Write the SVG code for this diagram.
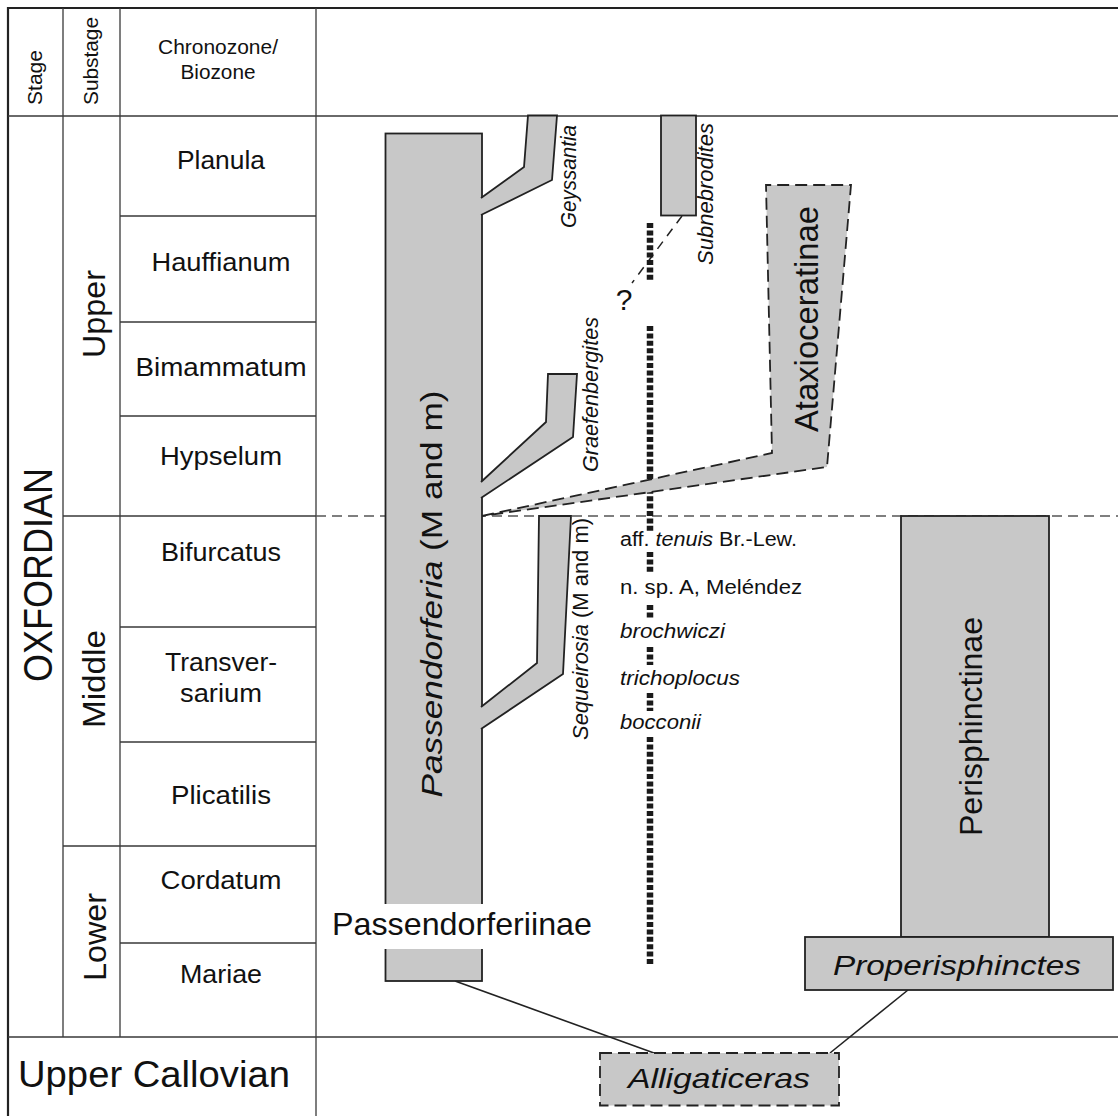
<svg xmlns="http://www.w3.org/2000/svg" width="1118" height="1116" viewBox="0 0 1118 1116">
<style>
text { font-family: "Liberation Sans", Arial, sans-serif; fill: #111; }
.it { font-style: italic; }
.frame { stroke: #222; stroke-width: 2.2; fill: none; }
.grid { stroke: #3a3a3a; stroke-width: 1.3; fill: none; }
.bdash { stroke: #555; stroke-width: 1.3; fill: none; stroke-dasharray: 10 6; }
.box { fill: #c8c8c8; stroke: #222; stroke-width: 1.8; }
.dbox { fill: #c8c8c8; stroke: #222; stroke-width: 1.8; stroke-dasharray: 12 6; }
.conn { stroke: #222; stroke-width: 1.6; fill: none; }
.qconn { stroke: #222; stroke-width: 1.5; fill: none; stroke-dasharray: 9 7; }
.dots { stroke: #1a1a1a; stroke-width: 6.5; fill: none; stroke-dasharray: 5 2.4; }
.zone { font-size: 25px; text-anchor: middle; }
.sub { font-size: 32px; text-anchor: middle; }
.gen { font-size: 22px; text-anchor: middle; font-style: italic; }
.sp { font-size: 19.5px; }
</style>

<g id="table">
  <path class="frame" d="M8,1116 V8 H1118"/>
  <path class="grid" d="M63,8 V1037 M120,8 V1037 M316,8 V1116 M8,116 H1118 M8,1037 H1118 M120,216 H316 M120,322 H316 M120,416 H316 M63,516 H316 M120,627 H316 M120,742 H316 M63,846 H316 M120,943 H316"/>
  <path class="bdash" d="M316,516 H1118"/>
</g>

<g id="header">
  <text transform="translate(41.5,77.5) rotate(-90)" font-size="19.5" text-anchor="middle" textLength="55" lengthAdjust="spacingAndGlyphs">Stage</text>
  <text transform="translate(98,61) rotate(-90)" font-size="19.5" text-anchor="middle" textLength="88" lengthAdjust="spacingAndGlyphs">Substage</text>
  <text x="218" y="54" font-size="20" text-anchor="middle" textLength="120" lengthAdjust="spacingAndGlyphs">Chronozone/</text>
  <text x="218" y="79" font-size="20" text-anchor="middle" textLength="75" lengthAdjust="spacingAndGlyphs">Biozone</text>
</g>

<g id="stages">
  <text transform="translate(51.7,575) rotate(-90)" font-size="40" text-anchor="middle" textLength="214" lengthAdjust="spacingAndGlyphs">OXFORDIAN</text>
  <text x="18" y="1087" font-size="36" textLength="272" lengthAdjust="spacingAndGlyphs">Upper Callovian</text>
</g>

<g id="substages">
  <text class="sub" transform="translate(105,314) rotate(-90)" textLength="88" lengthAdjust="spacingAndGlyphs">Upper</text>
  <text class="sub" transform="translate(105,679) rotate(-90)" textLength="98" lengthAdjust="spacingAndGlyphs">Middle</text>
  <text class="sub" transform="translate(106,937) rotate(-90)" textLength="88" lengthAdjust="spacingAndGlyphs">Lower</text>
</g>

<g id="zones">
  <text class="zone" x="221" y="169" textLength="88" lengthAdjust="spacingAndGlyphs">Planula</text>
  <text class="zone" x="221" y="271" textLength="139" lengthAdjust="spacingAndGlyphs">Hauffianum</text>
  <text class="zone" x="221" y="376" textLength="171" lengthAdjust="spacingAndGlyphs">Bimammatum</text>
  <text class="zone" x="221" y="465" textLength="122" lengthAdjust="spacingAndGlyphs">Hypselum</text>
  <text class="zone" x="221" y="561" textLength="120" lengthAdjust="spacingAndGlyphs">Bifurcatus</text>
  <text class="zone" x="221" y="671" textLength="112" lengthAdjust="spacingAndGlyphs">Transver-</text>
  <text class="zone" x="221" y="702" textLength="82" lengthAdjust="spacingAndGlyphs">sarium</text>
  <text class="zone" x="221" y="804" textLength="100" lengthAdjust="spacingAndGlyphs">Plicatilis</text>
  <text class="zone" x="221" y="889" textLength="121" lengthAdjust="spacingAndGlyphs">Cordatum</text>
  <text class="zone" x="221" y="983" textLength="82" lengthAdjust="spacingAndGlyphs">Mariae</text>
</g>

<g id="connectors">
  <line class="conn" x1="455" y1="981" x2="654" y2="1053"/>
  <line class="conn" x1="908" y1="990" x2="830" y2="1053"/>
  <line class="qconn" x1="682" y1="216" x2="632" y2="283"/>
  <path class="dots" d="M650,223 V282 M650,326 V532 M650,552 V573 M650,605 V618 M650,647 V665 M650,693 V711 M650,737 V965"/>
</g>

<g id="ataxioceratinae">
  <polygon class="dbox" points="482,516 772,453 766,185 851,185 827,467"/>
  <text transform="translate(818,319) rotate(-90)" font-size="33" text-anchor="middle" textLength="226" lengthAdjust="spacingAndGlyphs">Ataxioceratinae</text>
</g>

<g id="passendorferia">
  <rect class="box" x="385.5" y="133.5" width="96.5" height="847.5"/>
  <text transform="translate(442,594) rotate(-90)" font-size="30" text-anchor="middle" textLength="407" lengthAdjust="spacingAndGlyphs"><tspan class="it">Passendorferia</tspan> (M and m)</text>
</g>

<g id="geyssantia">
  <path class="box" d="M481,198 L524,167 L528,115.5 L557,115.5 L552,180 L481,215"/>
  <text class="gen" transform="translate(575.5,176.5) rotate(-90)" textLength="103" lengthAdjust="spacingAndGlyphs">Geyssantia</text>
</g>

<g id="subnebrodites">
  <rect class="box" x="661" y="115.5" width="35" height="100"/>
  <text class="gen" transform="translate(713,194) rotate(-90)" textLength="142" lengthAdjust="spacingAndGlyphs">Subnebrodites</text>
  <text x="624" y="310" font-size="30" text-anchor="middle">?</text>
</g>

<g id="graefenbergites">
  <path class="box" d="M481,482 L546,422 L548,374 L577,374 L573,437 L481,498"/>
  <text class="gen" transform="translate(597.5,394.5) rotate(-90)" textLength="155" lengthAdjust="spacingAndGlyphs">Graefenbergites</text>
</g>

<g id="sequeirosia">
  <path class="box" d="M481,707 L537,663 L539,516 L571,516 L563,674 L481,729"/>
  <text transform="translate(588.3,629) rotate(-90)" font-size="22" text-anchor="middle" textLength="222" lengthAdjust="spacingAndGlyphs"><tspan class="it">Sequeirosia</tspan> (M and m)</text>
</g>

<g id="species">
  <text class="sp" x="620" y="546" textLength="177" lengthAdjust="spacingAndGlyphs">aff. <tspan class="it">tenuis</tspan> Br.-Lew.</text>
  <text class="sp" x="620" y="594" textLength="182" lengthAdjust="spacingAndGlyphs">n. sp. A, Meléndez</text>
  <text class="sp it" x="620" y="638" textLength="105" lengthAdjust="spacingAndGlyphs">brochwiczi</text>
  <text class="sp it" x="620" y="685" textLength="120" lengthAdjust="spacingAndGlyphs">trichoplocus</text>
  <text class="sp it" x="620" y="729" textLength="81" lengthAdjust="spacingAndGlyphs">bocconii</text>
</g>

<g id="passendorferiinae">
  <rect x="383" y="904" width="102" height="45" fill="#ffffff"/>
  <text x="462" y="935" font-size="32" text-anchor="middle" textLength="260" lengthAdjust="spacingAndGlyphs">Passendorferiinae</text>
</g>

<g id="perisphinctinae">
  <rect class="box" x="901" y="516" width="148" height="421"/>
  <text transform="translate(982,726.5) rotate(-90)" font-size="32" text-anchor="middle" textLength="219" lengthAdjust="spacingAndGlyphs">Perisphinctinae</text>
</g>

<g id="properisphinctes">
  <rect class="box" x="805" y="937" width="308" height="53"/>
  <text class="it" x="957" y="975" font-size="28" text-anchor="middle" textLength="248" lengthAdjust="spacingAndGlyphs">Properisphinctes</text>
</g>

<g id="alligaticeras">
  <rect class="dbox" x="600" y="1053" width="239" height="52.5"/>
  <text class="it" x="719" y="1088" font-size="28" text-anchor="middle" textLength="182" lengthAdjust="spacingAndGlyphs">Alligaticeras</text>
</g>
</svg>
